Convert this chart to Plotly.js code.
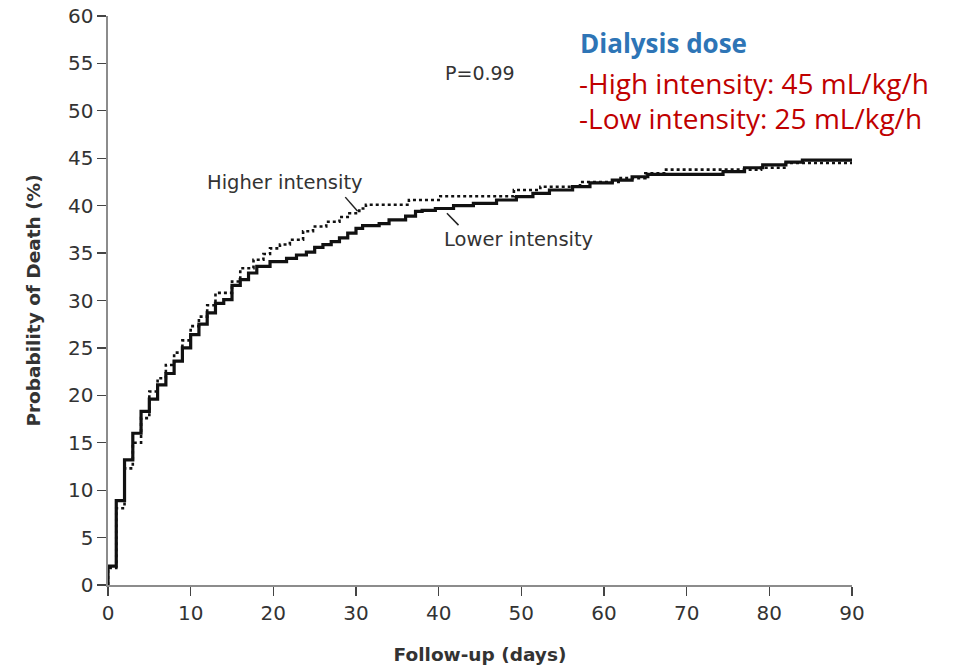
<!DOCTYPE html>
<html>
<head>
<meta charset="utf-8">
<script src="https://cdn.plot.ly/plotly-3.0.1.min.js"></script>
<style>
  html, body { margin: 0; padding: 0; background: #ffffff; }
  #chart { width: 956px; height: 670px; }
</style>
</head>
<body>
<div id="chart"></div>
<script>
// Lower intensity (solid) Kaplan-Meier step points
const lowDays = [0, 0, 1, 2, 3, 4, 5, 6, 7, 8, 9, 10, 11, 12, 13, 14, 15, 16, 17, 18, 19.6, 21.6, 22.8, 24, 25, 26, 27, 28, 29, 30, 30.8, 32.8, 34, 36, 37.2, 38, 39.6, 41.8, 44.2, 47, 49.4, 51.4, 53.4, 56.2, 58.3, 61, 63.4, 65.3, 74.4, 77, 79.2, 82, 84, 90];
const lowVals = [0, 2.0, 8.9, 13.2, 16.0, 18.3, 19.6, 21.1, 22.3, 23.6, 25.0, 26.4, 27.5, 28.7, 29.7, 30.1, 31.6, 32.2, 32.9, 33.6, 34.1, 34.45, 34.8, 35.1, 35.6, 35.9, 36.2, 36.6, 37.1, 37.6, 37.9, 38.1, 38.5, 38.9, 39.4, 39.5, 39.7, 40.0, 40.25, 40.6, 40.95, 41.3, 41.65, 42.0, 42.4, 42.7, 43.05, 43.3, 43.6, 44.0, 44.3, 44.6, 44.8, 44.8];

// Higher intensity (dotted) Kaplan-Meier step points
const highDays = [0, 0, 1, 2, 3, 4, 5, 6, 7, 8, 9, 10, 11, 12, 13, 15, 16, 17.6, 18.8, 19.6, 20.8, 22, 23.6, 24.8, 26.4, 28, 29.2, 30.4, 31.2, 36.4, 40.2, 49.1, 52.3, 57.1, 62, 65, 67.5, 79, 82, 90];
const highVals = [0, 1.8, 8.1, 12.3, 15.0, 17.6, 20.4, 21.8, 23.2, 24.5, 25.8, 27.3, 28.3, 29.5, 30.8, 32.0, 33.4, 34.3, 34.9, 35.5, 35.9, 36.4, 37.3, 37.8, 38.3, 38.8, 39.2, 39.7, 40.1, 40.6, 41.0, 41.65, 42.0, 42.5, 42.9, 43.4, 43.8, 44.0, 44.5, 44.5];

const yTicks = [0, 5, 10, 15, 20, 25, 30, 35, 40, 45, 50, 55, 60];
const xTicks = [0, 10, 20, 30, 40, 50, 60, 70, 80, 90];

const labelFont = "'DejaVu Sans', sans-serif";
const noteFont = "'Open Sans', 'Noto Sans', sans-serif";

const traces = [
  {
    x: highDays, y: highVals, type: 'scatter', mode: 'lines',
    line: { shape: 'hv', color: '#111111', width: 2.6, dash: 'dot' },
    hoverinfo: 'skip', showlegend: false
  },
  {
    x: lowDays, y: lowVals, type: 'scatter', mode: 'lines',
    line: { shape: 'hv', color: '#111111', width: 3.2 },
    hoverinfo: 'skip', showlegend: false
  }
];

const layout = {
  width: 956, height: 670,
  margin: { l: 108, r: 104, t: 16, b: 85 },
  paper_bgcolor: '#ffffff', plot_bgcolor: '#ffffff',
  showlegend: false,
  xaxis: {
    range: [0, 90], tickvals: xTicks, ticktext: xTicks.map(String),
    ticks: 'outside', ticklen: 9, tickwidth: 1.3, tickcolor: '#444',
    showline: true, linecolor: '#8c8c8c', linewidth: 1.6,
    showgrid: false, zeroline: false,
    tickfont: { family: labelFont, size: 20, color: '#333' },
    title: { text: '<b>Follow-up (days)</b>', font: { family: labelFont, size: 18.5, color: '#333' }, standoff: 24 }
  },
  yaxis: {
    range: [0, 60], tickvals: yTicks, ticktext: yTicks.map(String),
    ticks: 'outside', ticklen: 9, tickwidth: 1.3, tickcolor: '#444',
    showline: true, linecolor: '#8c8c8c', linewidth: 1.6,
    showgrid: false, zeroline: false,
    tickfont: { family: labelFont, size: 20, color: '#333' },
    title: { text: '<b>Probability of Death (%)</b>', font: { family: labelFont, size: 18.5, color: '#333' }, standoff: 22 }
  },
  annotations: [
    { x: 11.7, y: 42.4, xref: 'x', yref: 'y', xanchor: 'left', yanchor: 'middle', showarrow: false,
      text: 'Higher intensity', font: { family: labelFont, size: 19.5, color: '#333' } },
    { x: 40.4, y: 36.4, xref: 'x', yref: 'y', xanchor: 'left', yanchor: 'middle', showarrow: false,
      text: 'Lower intensity', font: { family: labelFont, size: 19.5, color: '#333' } },
    { x: 40.5, y: 54.0, xref: 'x', yref: 'y', xanchor: 'left', yanchor: 'middle', showarrow: false,
      text: 'P=0.99', font: { family: labelFont, size: 19, color: '#333' } },
    { x: 56.9, y: 57.2, xref: 'x', yref: 'y', xanchor: 'left', yanchor: 'middle', showarrow: false,
      text: '<b>Dialysis dose</b>', font: { family: noteFont, size: 26, color: '#2E75B6' } },
    { x: 56.75, y: 52.9, xref: 'x', yref: 'y', xanchor: 'left', yanchor: 'middle', showarrow: false,
      text: '-High intensity: 45 mL/kg/h', font: { family: noteFont, size: 28, color: '#C00000' } },
    { x: 56.75, y: 49.2, xref: 'x', yref: 'y', xanchor: 'left', yanchor: 'middle', showarrow: false,
      text: '-Low intensity: 25 mL/kg/h', font: { family: noteFont, size: 28, color: '#C00000' } }
  ],
  shapes: [
    { type: 'line', xref: 'x', yref: 'y', x0: 28.7, y0: 40.9, x1: 30.2, y1: 39.4, line: { color: '#222', width: 1.5 } },
    { type: 'line', xref: 'x', yref: 'y', x0: 41.0, y0: 39.2, x1: 42.4, y1: 37.95, line: { color: '#222', width: 1.5 } }
  ]
};

Plotly.newPlot('chart', traces, layout, { staticPlot: true, displayModeBar: false });
</script>
</body>
</html>
